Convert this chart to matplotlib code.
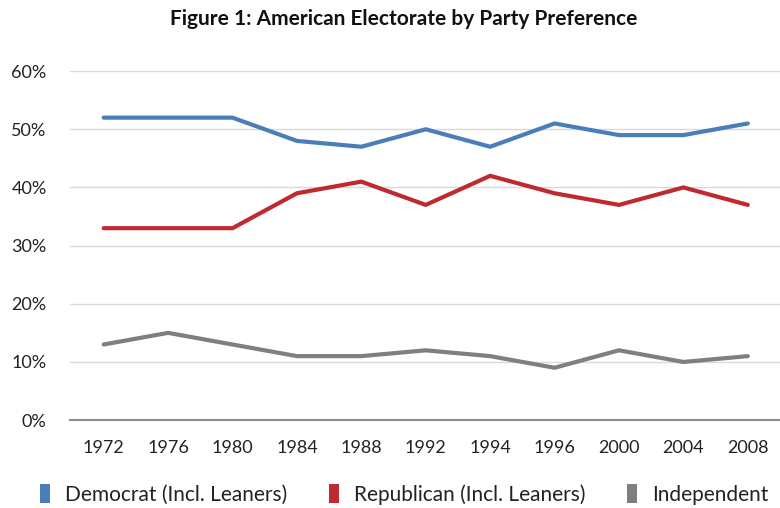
import matplotlib
matplotlib.use("Agg")
import matplotlib.pyplot as plt
from matplotlib.patches import Patch
from matplotlib.ticker import FuncFormatter

plt.rcParams['font.family'] = ['Lato', 'DejaVu Sans']

years = ["1972", "1976", "1980", "1984", "1988", "1992", "1994", "1996", "2000", "2004", "2008"]
democrat = [52, 52, 52, 48, 47, 50, 47, 51, 49, 49, 51]
republican = [33, 33, 33, 39, 41, 37, 42, 39, 37, 40, 37]
independent = [13, 15, 13, 11, 11, 12, 11, 9, 12, 10, 11]

labels = ["Democrat (Incl. Leaners)", "Republican (Incl. Leaners)", "Independent"]
colors = ["#4A7EBB", "#BE2A30", "#7F7F7F"]

fig = plt.figure(figsize=(7.8, 5.08), dpi=100)
ax = fig.add_axes([0.09, 0.173, 0.91, 0.687])

x = list(range(len(years)))
for vals, c in zip([democrat, republican, independent], colors):
    ax.plot(x, vals, color=c, linewidth=3.0, solid_capstyle="round", solid_joinstyle="miter", zorder=3)

ax.set_xlim(-0.52, 10.5)
ax.set_ylim(0, 60)
ax.set_yticks(range(0, 61, 10))
ax.yaxis.set_major_formatter(FuncFormatter(lambda v, p: f"{int(v)}%"))
ax.set_xticks(x)
ax.set_xticklabels(years)
ax.grid(axis="y", color="#D9D9D9", linewidth=1)
ax.set_axisbelow(True)
for s in ["top", "right", "left"]:
    ax.spines[s].set_visible(False)
ax.spines["bottom"].set_color("#8C8C8C")
ax.spines["bottom"].set_linewidth(1.5)
ax.tick_params(axis="both", length=0, labelsize=13, colors="#222222")
ax.tick_params(axis="x", pad=14)
ax.tick_params(axis="y", pad=17)

fig.text(0.518, 0.962, "Figure 1: American Electorate by Party Preference",
         ha="center", va="center", fontsize=15, fontweight="bold", color="#111111")

handles = [Patch(facecolor=c, edgecolor="none") for c in colors]
fig.legend(handles, labels, loc="center", bbox_to_anchor=(0.518, 0.027), ncol=3,
           frameon=False, fontsize=15, handlelength=0.5, handleheight=1.0,
           handletextpad=0.7, columnspacing=2.0, labelcolor="#222222")

fig.savefig("out.png", dpi=100)
